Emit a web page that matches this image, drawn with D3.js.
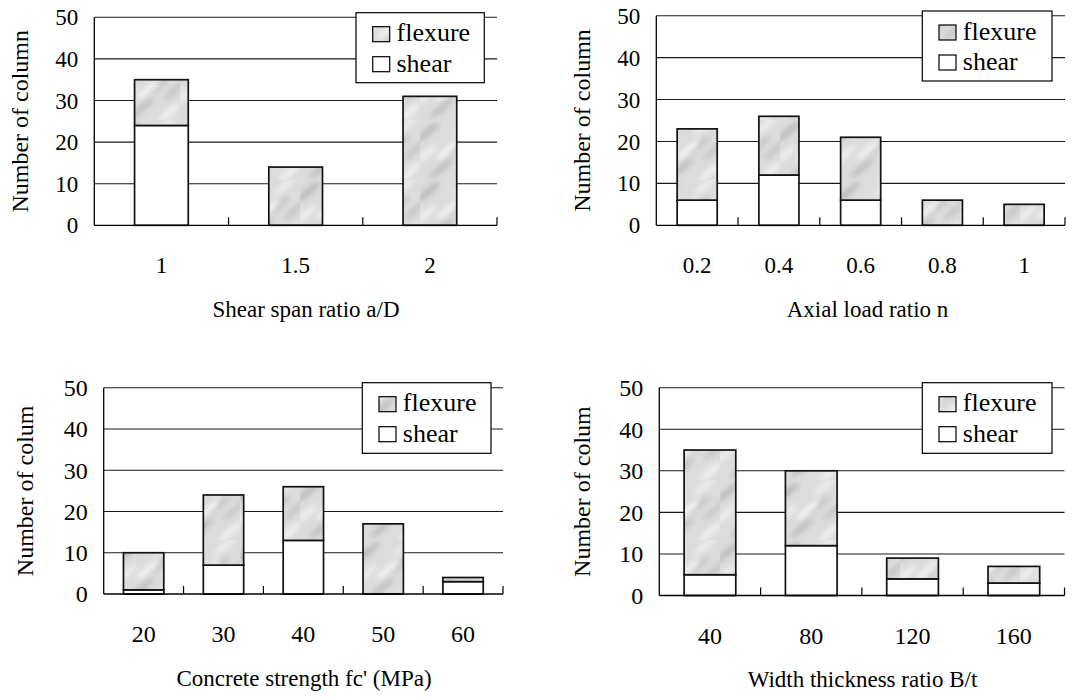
<!DOCTYPE html>
<html><head><meta charset="utf-8">
<script src="https://cdn.jsdelivr.net/npm/d3@7"></script>
<style>
html,body{margin:0;padding:0;background:#fff;}
svg{display:block;}
</style></head>
<body>
<svg id="chart" width="1075" height="698"></svg>
<script>
// ---- data ----
const yTicks = [0, 10, 20, 30, 40, 50];
const seriesNames = ["flexure", "shear"];

const catsA = ["1", "1.5", "2"];
const shearA = [24, 0, 0];
const flexA = [11, 14, 31];

const catsB = ["0.2", "0.4", "0.6", "0.8", "1"];
const shearB = [6, 12, 6, 0, 0];
const flexB = [17, 14, 15, 6, 5];

const catsC = ["20", "30", "40", "50", "60"];
const shearC = [1, 7, 13, 0, 3];
const flexC = [9, 17, 13, 17, 1];

const catsD = ["40", "80", "120", "160"];
const shearD = [5, 12, 4, 3];
const flexD = [30, 18, 5, 4];

const xTitles = ["Shear span ratio a/D", "Axial load ratio n", "Concrete strength fc' (MPa)", "Width thickness ratio B/t"];
const yTitles = ["Number of column", "Number of column", "Number of colum", "Number of colum"];

// ---- layout ----
const FONT = "'Liberation Serif', 'Times New Roman', 'DejaVu Serif', serif";
const panels = [
  {cats: catsA, shear: shearA, flex: flexA, xt: xTitles[0], yt: yTitles[0],
   L: 94.3, R: 497, T: 17.3, B: 225.3, ratio: 0.40, lg: [356, 12.7, 128.3, 70], xtc: 306, ytx: 28.3, fs: 23},
  {cats: catsB, shear: shearB, flex: flexB, xt: xTitles[1], yt: yTitles[1],
   L: 656.3, R: 1065, T: 15.7, B: 225.3, ratio: 0.49, lg: [922.3, 11, 129.7, 70], xtc: 867.5, ytx: 590, fs: 23},
  {cats: catsC, shear: shearC, flex: flexC, xt: xTitles[2], yt: yTitles[2],
   L: 103.7, R: 503, T: 387.7, B: 594, ratio: 0.505, lg: [362.3, 382.7, 128.7, 70.6], xtc: 304, ytx: 33.3, fs: 24},
  {cats: catsD, shear: shearD, flex: flexD, xt: xTitles[3], yt: yTitles[3],
   L: 659.3, R: 1064.5, T: 387.7, B: 595.5, ratio: 0.51, lg: [922.3, 382.7, 129.7, 70.6], xtc: 862.5, ytx: 590, fs: 24}
];

const svg = d3.select("#chart");
const defs = svg.append("defs");
const filt = defs.append("filter").attr("id", "blur").attr("x", "-50%").attr("y", "-50%").attr("width", "200%").attr("height", "200%");
filt.append("feGaussianBlur").attr("stdDeviation", 2.5);
const pat = defs.append("pattern").attr("id", "marble").attr("patternUnits", "userSpaceOnUse")
  .attr("width", 60).attr("height", 60);
pat.append("rect").attr("width", 60).attr("height", 60).attr("fill", "#dcdcdc");
const streaks = [[8, 12, "#bdbdbd"], [38, 26, "#c6c6c6"], [22, 48, "#c2c2c2"], [50, 52, "#efefef"],
                 [5, 35, "#ececec"], [45, 6, "#ebebeb"], [28, 30, "#f1f1f1"], [55, 30, "#c9c9c9"]];
const sg = pat.append("g").attr("filter", "url(#blur)");
streaks.forEach(s => {
  sg.append("ellipse").attr("cx", s[0]).attr("cy", s[1]).attr("rx", 15).attr("ry", 3.5)
    .attr("transform", `rotate(-40 ${s[0]} ${s[1]})`).attr("fill", s[2]);
});

function txt(sel, size) {
  return sel.attr("font-family", FONT).attr("font-size", size).attr("fill", "#000");
}

panels.forEach(p => {
  const g = svg.append("g");
  const n = p.cats.length;
  const pad = 1 - p.ratio;
  const x = d3.scaleBand().domain(p.cats).range([p.L, p.R]).paddingInner(pad).paddingOuter(pad / 2);
  const y = d3.scaleLinear().domain([0, 50]).range([p.B, p.T]);
  const step = x.step();

  // gridlines
  g.selectAll(".grid").data(yTicks.filter(d => d > 0)).enter().append("line")
    .attr("x1", p.L).attr("x2", p.R).attr("y1", d => y(d)).attr("y2", d => y(d))
    .attr("stroke", "#1a1a1a").attr("stroke-width", 1.1);

  // y tick labels
  txt(g.selectAll(".yl").data(yTicks).enter().append("text"), p.fs)
    .attr("x", p.L - 16).attr("y", d => y(d)).attr("dy", "0.35em")
    .attr("text-anchor", "end").text(d => d);

  // bars
  const rows = p.cats.map((c, i) => ({c, s: p.shear[i], f: p.flex[i]}));
  g.selectAll(".sh").data(rows.filter(r => r.s > 0)).enter().append("rect")
    .attr("x", r => x(r.c)).attr("width", x.bandwidth())
    .attr("y", r => y(r.s)).attr("height", r => y(0) - y(r.s))
    .attr("fill", "#fff").attr("stroke", "#111").attr("stroke-width", 1.7);
  g.selectAll(".fl").data(rows.filter(r => r.f > 0)).enter().append("rect")
    .attr("x", r => x(r.c)).attr("width", x.bandwidth())
    .attr("y", r => y(r.s + r.f)).attr("height", r => y(r.s) - y(r.s + r.f))
    .attr("fill", "url(#marble)").attr("stroke", "#111").attr("stroke-width", 1.7);

  // axes
  g.append("line").attr("x1", p.L).attr("x2", p.L).attr("y1", y(50)).attr("y2", y(0))
    .attr("stroke", "#000").attr("stroke-width", 1.3);
  g.append("line").attr("x1", p.L).attr("x2", p.R).attr("y1", y(0)).attr("y2", y(0))
    .attr("stroke", "#000").attr("stroke-width", 1.3);
  // category separators
  g.selectAll(".sep").data(d3.range(1, n + 1)).enter().append("line")
    .attr("x1", i => p.L + i * step).attr("x2", i => p.L + i * step)
    .attr("y1", y(0)).attr("y2", y(0) - 8).attr("stroke", "#000").attr("stroke-width", 1.2);

  // x tick labels
  txt(g.selectAll(".xl").data(p.cats).enter().append("text"), p.fs)
    .attr("x", c => x(c) + x.bandwidth() / 2).attr("y", p.B + 48)
    .attr("text-anchor", "middle").text(c => c);

  // x title
  txt(g.append("text"), 23).attr("x", p.xtc).attr("y", p.B + 91.5).attr("text-anchor", "middle")
    .text(p.xt);

  // y title
  txt(g.append("text"), 24).attr("transform", `translate(${p.ytx},${(p.T + p.B) / 2}) rotate(-90)`)
    .attr("text-anchor", "middle").text(p.yt);

  // legend
  const [lx, ly, lw, lh] = p.lg;
  const lgG = g.append("g");
  lgG.append("rect").attr("x", lx).attr("y", ly).attr("width", lw).attr("height", lh)
    .attr("fill", "#fff").attr("stroke", "#000").attr("stroke-width", 1.2);
  seriesNames.forEach((nm, i) => {
    lgG.append("rect").attr("x", lx + 16.7).attr("y", ly + 14 + i * 30).attr("width", 17).attr("height", 15)
      .attr("fill", nm === "flexure" ? "url(#marble)" : "#fff").attr("stroke", "#000").attr("stroke-width", 1.2);
    txt(lgG.append("text"), 26).attr("x", lx + 40.5).attr("y", ly + 28.5 + i * 30.5).text(nm);
  });
});
</script>
</body></html>
